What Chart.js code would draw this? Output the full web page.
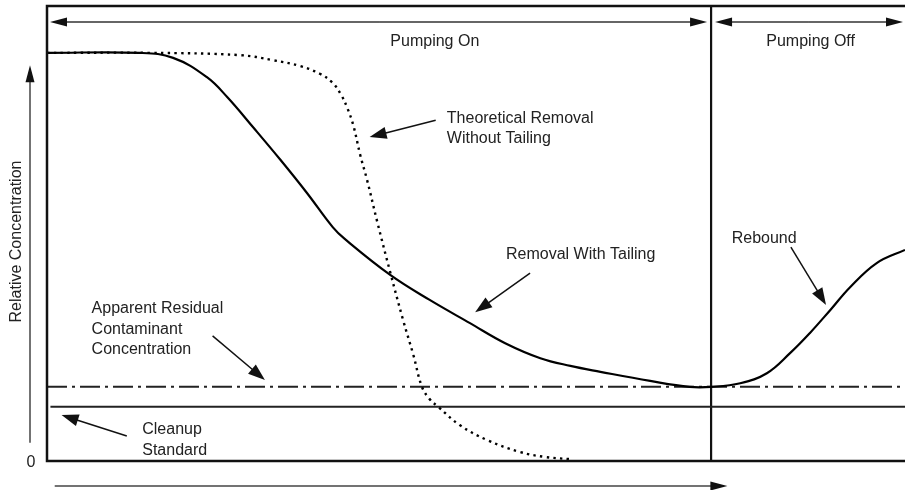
<!DOCTYPE html>
<html>
<head>
<meta charset="utf-8">
<script src="https://cdn.jsdelivr.net/npm/chart.js@4"></script>
<style>
  html, body { margin: 0; padding: 0; background: #fff; }
  #wrap { width: 905px; height: 490px; }
</style>
</head>
<body>
<div id="wrap"><canvas id="myChart" width="905" height="490"></canvas></div>
<script>
// time axis runs 0..100, concentration 0..100 (relative units)
const tailingTime = [0, 10.8, 14.7, 18.6, 21.0, 24.0, 27.2, 30.3, 33.3, 34.7, 40.0, 44.6, 49.3, 53.4, 57.5, 61.0, 64.5, 70.3, 74.9, 77.4, 80.8, 83.9, 86.6, 88.9, 91.3, 93.6, 96.7, 100];
const tailingConc = [89.7, 89.7, 88.6, 84.4, 80.0, 73.4, 66.2, 58.9, 51.4, 48.8, 40.9, 35.4, 30.3, 25.9, 22.6, 20.9, 19.6, 17.6, 16.3, 16.3, 17.1, 19.3, 23.7, 28.1, 33.2, 38.2, 43.5, 46.4];

const theoryTime = [0, 12, 22.5, 26.3, 29.5, 31.8, 33.3, 34.3, 35.0, 35.7, 36.5, 37.3, 38.5, 40.0, 41.5, 42.7, 43.7, 44.6, 45.6, 48.1, 51.3, 55.1, 58.0, 61.0];
const theoryConc = [89.7, 89.7, 89.2, 88.1, 86.8, 85.1, 83.1, 80.4, 77.6, 73.8, 67.3, 61.8, 52.5, 41.5, 31.0, 23.3, 16.3, 13.6, 11.9, 7.9, 4.6, 2.0, 0.9, 0.4];

const residualLevel = 16.3;
const cleanupStandard = 11.9;
const pumpOffTime = 77.4;

const phaseLabels = ['Pumping On', 'Pumping Off'];
const yTickLabels = ['0'];
const yAxisTitle = 'Relative Concentration';

const toPoints = (xs, ys) => xs.map((x, i) => ({ x: x, y: ys[i] }));

// annotation texts and arrows, placed in data units
const notes = [
    { lines: ['Theoretical Removal', 'Without Tailing'], x: 46.6, y: 74.3 },
    { lines: ['Removal With Tailing'], x: 53.5, y: 44.4 },
    { lines: ['Rebound'], x: 79.8, y: 47.9 },
    { lines: ['Apparent Residual', 'Contaminant', 'Concentration'], x: 5.2, y: 32.5 },
    { lines: ['Cleanup', 'Standard'], x: 11.1, y: 5.9 }
];
const pointers = [
    { from: [45.3, 74.9], to: [37.6, 71.2] },
    { from: [56.3, 41.3], to: [49.9, 32.7] },
    { from: [86.7, 47.0], to: [90.8, 34.3] },
    { from: [19.3, 27.5], to: [25.4, 17.8] },
    { from: [9.3, 5.5], to: [1.7, 10.1] }
];

const FONT = '16px "Liberation Sans", Arial, Helvetica, sans-serif';
const INK = '#111';

function arrow(ctx, x1, y1, x2, y2, len, half) {
    const a = Math.atan2(y2 - y1, x2 - x1);
    ctx.beginPath();
    ctx.moveTo(x1, y1);
    ctx.lineTo(x2 - Math.cos(a) * len * 0.8, y2 - Math.sin(a) * len * 0.8);
    ctx.stroke();
    ctx.beginPath();
    ctx.moveTo(x2, y2);
    ctx.lineTo(x2 - Math.cos(a) * len - Math.sin(a) * half, y2 - Math.sin(a) * len + Math.cos(a) * half);
    ctx.lineTo(x2 - Math.cos(a) * len + Math.sin(a) * half, y2 - Math.sin(a) * len - Math.cos(a) * half);
    ctx.closePath();
    ctx.fill();
}

const decor = {
    id: 'decor',
    afterDatasetsDraw(chart) {
        const ctx = chart.ctx;
        const area = chart.chartArea;
        const xs = chart.scales.x, ys = chart.scales.y;
        const px = (v) => xs.getPixelForValue(v);
        const py = (v) => ys.getPixelForValue(v);
        ctx.save();

        // frame (right side runs off the page)
        ctx.strokeStyle = INK;
        ctx.lineWidth = 2.5;
        ctx.beginPath();
        ctx.moveTo(area.right + 5, area.top);
        ctx.lineTo(area.left, area.top);
        ctx.lineTo(area.left, area.bottom);
        ctx.lineTo(area.right + 5, area.bottom);
        ctx.stroke();

        // phase arrows
        ctx.fillStyle = INK;
        ctx.lineWidth = 1.3;
        ctx.strokeStyle = '#333';
        const split = px(pumpOffTime);
        const yTop = area.top + 16;
        arrow(ctx, (area.left + split) / 2, yTop, area.left + 3, yTop, 17, 4.5);
        arrow(ctx, (area.left + split) / 2, yTop, split - 4, yTop, 17, 4.5);
        arrow(ctx, (split + area.right) / 2, yTop, split + 4, yTop, 17, 4.5);
        arrow(ctx, (split + area.right) / 2, yTop, area.right - 2, yTop, 17, 4.5);

        ctx.font = FONT;
        ctx.fillStyle = '#222';
        ctx.textBaseline = 'alphabetic';
        ctx.textAlign = 'center';
        ctx.fillText(phaseLabels[0], px(45.2), area.top + 40);
        ctx.fillText(phaseLabels[1], px(89.0), area.top + 40);

        // notes
        ctx.textAlign = 'left';
        notes.forEach((n) => {
            n.lines.forEach((t, i) => ctx.fillText(t, px(n.x), py(n.y) + i * 20.5));
        });
        ctx.fillStyle = INK;
        ctx.strokeStyle = INK;
        ctx.lineWidth = 1.5;
        pointers.forEach((p) => arrow(ctx, px(p.from[0]), py(p.from[1]), px(p.to[0]), py(p.to[1]), 17, 6));

        // y axis: arrow, zero and title
        ctx.strokeStyle = '#444';
        ctx.fillStyle = INK;
        ctx.lineWidth = 1.5;
        const ax = area.left - 17;
        arrow(ctx, ax, py(4), ax, py(87), 17, 4.5);
        ctx.fillStyle = '#222';
        ctx.textAlign = 'center';
        ctx.textBaseline = 'middle';
        ctx.fillText(yTickLabels[0], ax + 1, py(0) + 2);
        ctx.save();
        ctx.translate(17, (area.top + area.bottom) / 2 + 8);
        ctx.rotate(-Math.PI / 2);
        ctx.fillText(yAxisTitle, 0, 0);
        ctx.restore();

        // time arrow under the frame
        ctx.strokeStyle = '#444';
        ctx.fillStyle = INK;
        const by = area.bottom + 25;
        arrow(ctx, px(0.9), by, px(79.3), by, 17, 4.5);

        ctx.restore();
    }
};

const config = {
    type: 'line',
    data: {
        datasets: [
            {
                label: 'Removal With Tailing',
                data: toPoints(tailingTime, tailingConc),
                borderColor: '#000',
                borderWidth: 2.2,
                tension: 0.4,
                pointRadius: 0
            },
            {
                label: 'Theoretical Removal Without Tailing',
                data: toPoints(theoryTime, theoryConc),
                borderColor: '#000',
                borderWidth: 2.4,
                borderDash: [2.4, 4.3],
                tension: 0.4,
                pointRadius: 0
            },
            {
                label: 'Apparent Residual Contaminant Concentration',
                data: [{ x: 0, y: residualLevel }, { x: 100, y: residualLevel }],
                borderColor: '#222',
                borderWidth: 2,
                borderDash: [20, 5, 3, 5],
                pointRadius: 0
            },
            {
                label: 'Cleanup Standard',
                data: [{ x: 0.4, y: cleanupStandard }, { x: 100, y: cleanupStandard }],
                borderColor: '#222',
                borderWidth: 2,
                pointRadius: 0
            },
            {
                label: 'Pumping Off',
                data: [{ x: pumpOffTime, y: 0 }, { x: pumpOffTime, y: 100 }],
                borderColor: '#111',
                borderWidth: 2.2,
                pointRadius: 0
            }
        ]
    },
    options: {
        responsive: false,
        animation: false,
        layout: { padding: { left: 47, top: 6, right: 0, bottom: 29 } },
        scales: {
            x: { type: 'linear', min: 0, max: 100, display: false },
            y: { type: 'linear', min: 0, max: 100, display: false }
        },
        plugins: {
            legend: { display: false },
            tooltip: { enabled: false }
        }
    },
    plugins: [decor]
};

const myChart = new Chart(document.getElementById('myChart'), config);
</script>
</body>
</html>
